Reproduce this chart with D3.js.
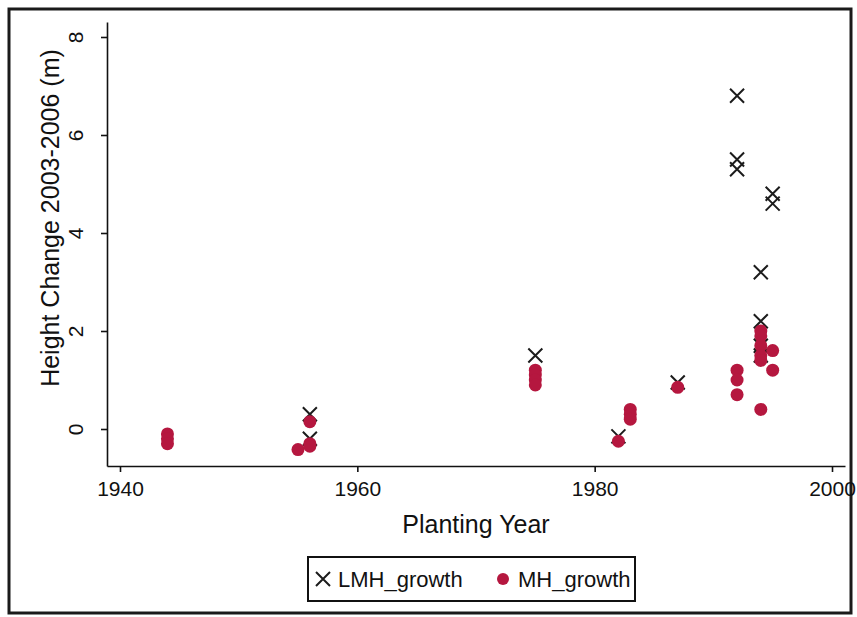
<!DOCTYPE html>
<html><head><meta charset="utf-8">
<script src="https://cdn.jsdelivr.net/npm/d3@7"></script>
<style>body{margin:0;background:#fff}svg{display:block}text{font-family:"Liberation Sans",Arial,sans-serif;fill:#111}</style>
</head><body>
<svg id="c" width="857" height="617"></svg>
<script>
const years = [1944,1944,1944,1955,1956,1956,1956,1975,1975,1975,1975,1982,1983,1983,1983,1987,1992,1992,1992,1994,1994,1994,1994,1994,1994,1995,1995];
const lmhGrowth = [null,null,null,null,0.3,-0.2,null,1.5,null,null,null,-0.15,null,null,null,0.95,6.8,5.5,5.3,3.2,2.2,1.7,1.5,null,null,4.8,4.6];
const mhGrowth = [-0.1,-0.2,-0.3,-0.42,0.15,-0.3,-0.35,1.2,1.1,1.0,0.9,-0.25,0.4,0.3,0.2,0.85,1.2,1.0,0.7,2.0,1.9,1.7,1.5,1.4,0.4,1.6,1.2];
const xTicks = [1940,1960,1980,2000];
const yTicks = [0,2,4,6,8];
const seriesNames = ["LMH_growth","MH_growth"];

const svg = d3.select("#c");
const L=107,R=845,T=22,B=466;
const x = d3.scaleLinear().domain([1938.905,2001.095]).range([L,R]);
const y = d3.scaleLinear().domain([-0.755,8.306]).range([B,T]);

svg.append("rect").attr("x",9).attr("y",9).attr("width",842).attr("height",604)
  .attr("fill","none").attr("stroke","#1a1a1a").attr("stroke-width",3);

const xa = svg.append("g").attr("transform",`translate(0,${B})`)
  .call(d3.axisBottom(x).tickValues(xTicks).tickFormat(d3.format("d")).tickSize(6).tickSizeOuter(0).tickPadding(9));
xa.selectAll("text").style("font-size","21px");
const ya = svg.append("g").attr("transform",`translate(${L},0)`)
  .call(d3.axisLeft(y).tickValues(yTicks).tickSize(6).tickSizeOuter(0));
ya.selectAll("text").attr("x",null).attr("dy",null).attr("text-anchor","middle")
  .attr("transform","translate(-24,0) rotate(-90)").style("font-size","21px");
svg.selectAll(".domain, .tick line").attr("stroke","#111").attr("stroke-width",1.6);

svg.append("text").attr("x",476).attr("y",533).attr("text-anchor","middle").style("font-size","25px").text("Planting Year");
svg.append("text").attr("transform","translate(59,218) rotate(-90)").attr("text-anchor","middle").style("font-size","25px").text("Height Change 2003-2006 (m)");

const xMark = (g, cx, cy, s) => {
  g.append("path").attr("d",`M${cx-s},${cy-s}L${cx+s},${cy+s}M${cx-s},${cy+s}L${cx+s},${cy-s}`)
   .attr("stroke","#1c1c1c").attr("stroke-width",2).attr("fill","none");
};
const gx = svg.append("g");
years.forEach((yr,i)=> { if (lmhGrowth[i] !== null) xMark(gx, x(yr), y(lmhGrowth[i]), 7); });
svg.append("g").selectAll("circle").data(years).join("circle")
  .attr("cx",d=>x(d)).attr("cy",(d,i)=>y(mhGrowth[i])).attr("r",6.5).attr("fill","#b5173f");

const lg = svg.append("g");
lg.append("rect").attr("x",308).attr("y",557).attr("width",327).attr("height",44)
  .attr("fill","#fff").attr("stroke","#111").attr("stroke-width",2);
xMark(lg, 323, 579, 7);
lg.append("text").attr("x",338).attr("y",587).style("font-size","22px").text(seriesNames[0]);
lg.append("circle").attr("cx",503).attr("cy",579).attr("r",6).attr("fill","#b5173f");
lg.append("text").attr("x",518).attr("y",587).style("font-size","22px").text(seriesNames[1]);
</script>
</body></html>
